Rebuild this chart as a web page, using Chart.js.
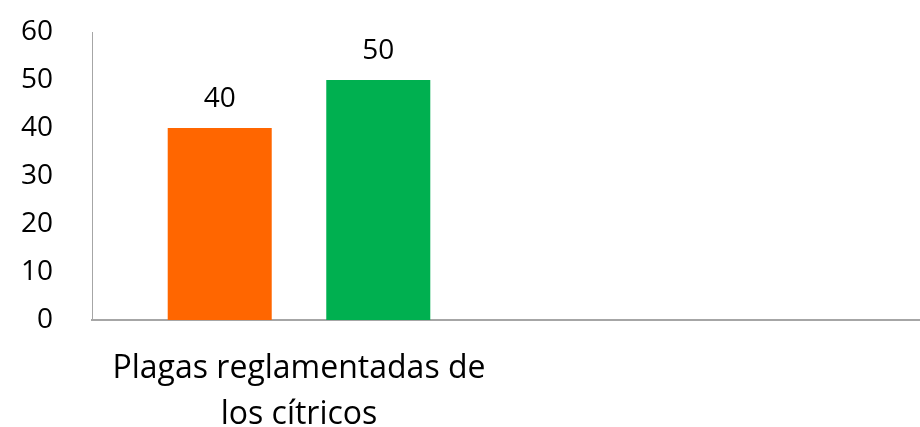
<!DOCTYPE html>
<html>
<head>
<meta charset="utf-8">
<script src="https://cdn.jsdelivr.net/npm/chart.js@4.4.0/dist/chart.umd.min.js"></script>
<style>
  html, body { margin: 0; padding: 0; background: #fff; }
  #wrap { width: 920px; height: 427px; position: relative; }
</style>
</head>
<body>
<div id="wrap"><canvas id="plagasChart"></canvas></div>
<script>
// Chart data
const categories = [['Plagas reglamentadas de', 'los cítricos'], ''];
const serieNaranja = [40, null];
const serieVerde = [50, null];
const yTicks = [0, 10, 20, 30, 40, 50, 60];

const FONT = '"Open Sans", sans-serif';

// draws the value above each bar
const valueLabels = {
    id: 'valueLabels',
    afterDatasetsDraw(chart) {
        const c = chart.ctx;
        c.save();
        c.font = '28px ' + FONT;
        c.fillStyle = '#000';
        c.textAlign = 'center';
        c.textBaseline = 'alphabetic';
        chart.data.datasets.forEach((ds, i) => {
            chart.getDatasetMeta(i).data.forEach((bar, j) => {
                if (ds.data[j] == null) return;
                c.fillText(ds.data[j], bar.x, bar.y - 21);
            });
        });
        c.restore();
    }
};

const ctx = document.getElementById('plagasChart').getContext('2d');
const chart = new Chart(ctx, {
    type: 'bar',
    data: {
        labels: categories,
        datasets: [
            { data: serieNaranja, backgroundColor: '#FF6600', categoryPercentage: 0.766, barPercentage: 0.656 },
            { data: serieVerde, backgroundColor: '#00B050', categoryPercentage: 0.766, barPercentage: 0.656 }
        ]
    },
    options: {
        responsive: true,
        maintainAspectRatio: false,
        animation: false,
        layout: { autoPadding: false, padding: { top: 32, right: 0, left: 0, bottom: 0 } },
        plugins: {
            legend: { display: false },
            tooltip: { enabled: false }
        },
        scales: {
            x: {
                grid: { display: false, drawTicks: false },
                border: { color: '#a6a6a6', width: 2 },
                ticks: {
                    color: '#000',
                    font: { family: FONT, size: 32, lineHeight: 1.44 },
                    padding: 26,
                    maxRotation: 0,
                    autoSkip: false
                },
                afterFit(scale) {
                    scale.height = 107;
                    scale.paddingLeft = 0;
                    scale.paddingRight = 0;
                }
            },
            y: {
                min: 0,
                max: 60,
                afterBuildTicks(scale) { scale.ticks = yTicks.map(v => ({ value: v })); },
                grid: { display: false, drawTicks: false },
                border: { color: '#a6a6a6', width: 1 },
                ticks: {
                    color: '#000',
                    font: { family: FONT, size: 28 },
                    padding: 39
                },
                afterFit(scale) {
                    scale.width = 92;
                    scale.paddingTop = 0;
                    scale.paddingBottom = 0;
                }
            }
        }
    },
    plugins: [valueLabels]
});
</script>
</body>
</html>
